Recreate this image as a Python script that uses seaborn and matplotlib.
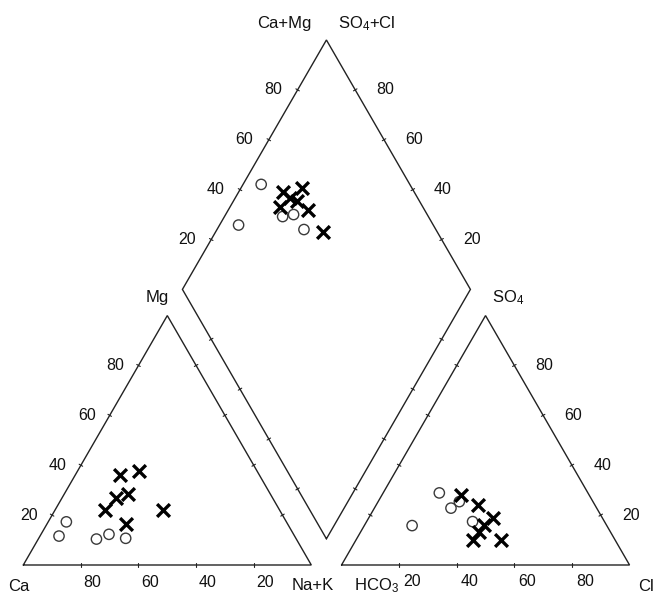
"""
Piper diagram: cation and anion triangles with the central diamond.
"""

import numpy as np
import matplotlib
matplotlib.use('Agg')
import matplotlib.pyplot as plt
import seaborn as sns

# percentages (meq %)
# group drawn with crosses
x_mg = [22.0, 36.0, 26.7, 28.3, 16.4, 22.0, 37.7]
x_nak = [17.5, 15.5, 18.8, 22.3, 27.6, 37.5, 21.2]
x_so4 = [10.0, 13.2, 28.1, 16.1, 24.1, 10.0, 18.7]
x_cl = [40.5, 41.3, 27.5, 41.5, 35.2, 50.4, 43.1]

# group drawn with open circles
o_mg = [17.3, 11.6, 10.4, 12.3, 10.7]
o_nak = [6.3, 6.6, 20.2, 23.6, 30.2]
o_so4 = [28.9, 15.8, 22.8, 25.4, 17.4]
o_cl = [19.5, 16.6, 26.6, 28.2, 36.8]

tick_vals = [20, 40, 60, 80]

H = np.sqrt(3) / 2
GAP = 10.5
OFF = 100 + GAP

LINE = '#222222'
NUM_FONT = ['Liberation Sans Narrow', 'Liberation Sans', 'DejaVu Sans']
LAB_FONT = ['Liberation Sans', 'DejaVu Sans']


def cation_xy(mg, nak):
    mg, nak = np.asarray(mg, float), np.asarray(nak, float)
    return nak + mg / 2, mg * H


def anion_xy(so4, cl):
    so4, cl = np.asarray(so4, float), np.asarray(cl, float)
    return OFF + cl + so4 / 2, so4 * H


def diamond_xy(nak, so4_cl):
    nak, a = np.asarray(nak, float), np.asarray(so4_cl, float)
    t = OFF + a - nak
    return nak + t / 2, t * H


def draw_poly(ax, pts):
    pts = np.array(pts + [pts[0]])
    ax.plot(pts[:, 0], pts[:, 1], color=LINE, lw=1.0, solid_joinstyle='miter')
    # small tick marks at 20/40/60/80 % on every edge
    for p, q in zip(pts[:-1], pts[1:]):
        d = q - p
        n = np.array([-d[1], d[0]]) / np.hypot(*d) * 0.7
        for f in tick_vals:
            c = p + d * f / 100
            ax.plot([c[0] - n[0], c[0] + n[0]], [c[1] - n[1], c[1] + n[1]],
                    color=LINE, lw=0.8)


def num(ax, x, y, s):
    ax.text(x, y, s, ha='center', va='center', fontsize=11.5,
            family=NUM_FONT, color='#111111')


def lab(ax, x, y, s, ha='center'):
    ax.text(x, y, s, ha=ha, va='center', fontsize=12,
            family=LAB_FONT, color='#111111')


def main():
    sns.set_style('white')
    plt.rcParams['font.family'] = LAB_FONT

    fig = plt.figure(figsize=(6.55, 5.94), dpi=100)
    ax = fig.add_axes([0, 0, 1, 1])
    ax.set_xlim(-8.09, 219.34)
    ax.set_ylim(-10.07, 196.18)
    ax.axis('off')

    # outlines
    left = [(0, 0), (100, 0), (50, 100 * H)]
    right = [(OFF, 0), (OFF + 100, 0), (OFF + 50, 100 * H)]
    dia = [tuple(diamond_xy(100, 0)), tuple(diamond_xy(100, 100)),
           tuple(diamond_xy(0, 100)), tuple(diamond_xy(0, 0))]
    for poly in (left, right, dia):
        draw_poly(ax, [np.array(p, float) for p in poly])

    # tick labels
    for v in tick_vals:
        num(ax, v + 4, -6.0, str(100 - v))                 # Ca along base
        mx, my = cation_xy(v, 0)
        num(ax, mx - 8.0, my, str(v))                       # Mg
        num(ax, OFF + v + 4.5, -5.6, str(v))                # Cl along base
        sx, sy = anion_xy(v, 100 - v)
        num(ax, sx + 10.5, sy, str(v))                      # SO4
        dx, dy = diamond_xy(0, v)
        num(ax, dx - 8.5, dy, str(v))                       # diamond upper left
        rx, ry = diamond_xy(100 - v, 100)
        num(ax, rx + 10.5, ry, str(v))                      # diamond upper right

    # corner labels
    lab(ax, -1.7, -7.6, 'Ca')
    lab(ax, 100.6, -7.2, 'Na+K')
    lab(ax, 46.4, 93.0, 'Mg')
    lab(ax, OFF + 12.0, -7.3, r'HCO$\mathregular{_3}$')
    lab(ax, 213.4, -7.6, 'Cl', ha='left')
    lab(ax, OFF + 58.0, 93.0, r'SO$\mathregular{_4}$')
    lab(ax, 90.8, 188.1, 'Ca+Mg')
    lab(ax, 119.2, 188.1, r'SO$\mathregular{_4}$+Cl')

    # sample points in the three fields
    xs = [cation_xy(x_mg, x_nak), anion_xy(x_so4, x_cl),
          diamond_xy(x_nak, np.add(x_so4, x_cl))]
    os_ = [cation_xy(o_mg, o_nak), anion_xy(o_so4, o_cl),
           diamond_xy(o_nak, np.add(o_so4, o_cl))]
    for px, py in os_:
        sns.scatterplot(x=px, y=py, ax=ax, marker='o', s=55,
                        facecolors='none', edgecolor='#3a3a3a', linewidth=1.0,
                        zorder=3)
    for px, py in xs:
        sns.scatterplot(x=px, y=py, ax=ax, marker='x', s=85,
                        color='black', linewidth=2.4, zorder=4)

    fig.savefig('out.png', dpi=100, facecolor='white')


if __name__ == '__main__':
    main()
